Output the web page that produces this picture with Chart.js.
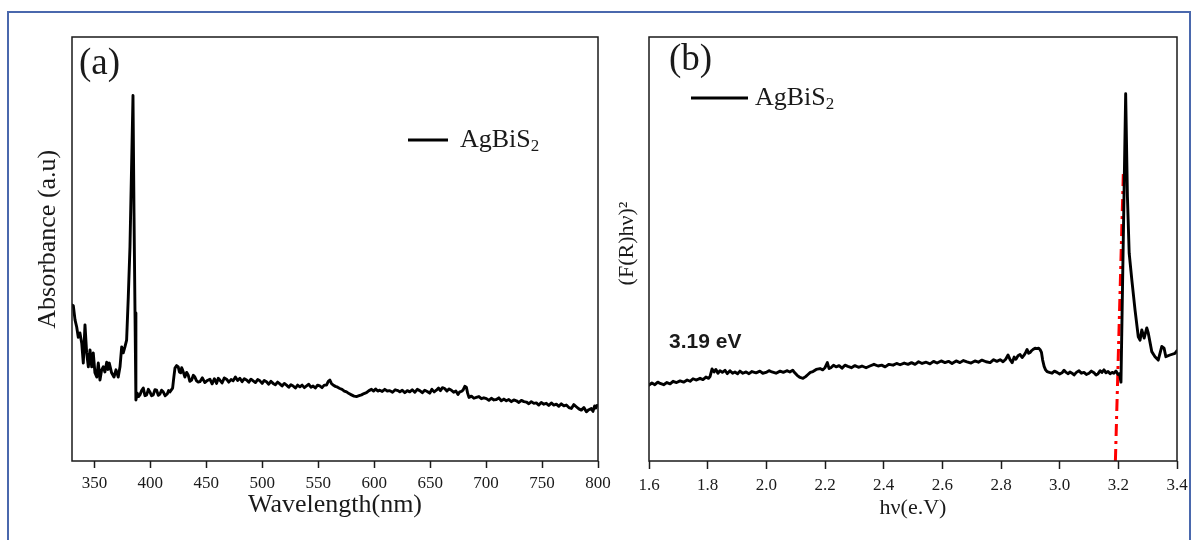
<!DOCTYPE html>
<html>
<head>
<meta charset="utf-8">
<script src="https://cdn.jsdelivr.net/npm/chart.js@4.4.1/dist/chart.umd.min.js"></script>
<style>
  html, body { margin: 0; padding: 0; background: #ffffff; }
  #wrap { position: relative; width: 1198px; height: 540px; overflow: hidden; background: #ffffff; }
  #frame { position: absolute; left: 7px; top: 11px; width: 1184px; height: 560px;
           border: 2px solid #4a68ad; box-sizing: border-box; }
  canvas { position: absolute; top: 0; }
  #chartA { left: 0; }
  #chartB { left: 600px; }
</style>
</head>
<body>
<div id="wrap">
  <div id="frame"></div>
  <canvas id="chartA" width="640" height="540"></canvas>
  <canvas id="chartB" width="598" height="540"></canvas>
</div>
<script>
// ---- (a) UV-Vis absorbance spectrum ----
const wavelength = [
  330.0, 331.2, 332.7, 334.2, 335.6, 337.1, 338.7, 340.1, 341.6, 343.1, 344.6, 346.1, 347.6, 349.0,
  350.5, 352.1, 353.5, 355.0, 356.5, 357.9, 359.4, 361.0, 362.2, 363.3, 365.4, 367.5, 369.3, 371.3,
  372.9, 374.4, 375.8, 377.3, 378.8, 380.3, 381.8, 383.3, 384.5, 385.4, 386.3, 387.1, 388.3, 389.5,
  390.7, 392.2, 393.7, 395.2, 396.7, 398.2, 399.6, 401.1, 402.6, 404.1, 405.6, 407.1, 408.6, 410.0,
  411.5, 413.3, 415.1, 416.3, 417.5, 419.9, 421.0, 422.0, 423.5, 424.9, 426.0, 427.1, 428.0, 428.8,
  430.9, 432.4, 433.8, 435.3, 436.9, 438.4, 439.8, 441.3, 442.8, 444.3, 446.5, 448.7, 451.0, 453.2,
  455.2, 457.2, 459.2, 460.7, 462.1, 464.1, 466.1, 468.1, 470.1, 472.1, 474.0, 476.0, 478.0, 480.0,
  482.0, 484.0, 486.0, 488.0, 489.9, 491.9, 493.9, 495.9, 497.9, 499.9, 501.8, 503.8, 505.8, 507.7,
  509.7, 511.7, 513.7, 515.7, 517.7, 519.7, 521.7, 523.7, 525.6, 527.6, 529.6, 531.6, 533.6, 535.6,
  537.6, 539.6, 541.6, 543.5, 545.4, 547.4, 549.4, 551.4, 553.4, 555.4, 557.4, 559.0, 560.4, 561.8,
  563.3, 565.3, 567.3, 569.3, 571.3, 573.3, 575.3, 577.5, 579.7, 582.0, 584.2, 586.5, 588.7, 590.9,
  593.1, 595.4, 597.6, 599.5, 601.3, 603.2, 605.0, 607.2, 609.5, 611.7, 613.9, 616.4, 618.8, 621.3,
  622.9, 625.1, 627.4, 629.6, 631.8, 634.0, 636.3, 638.5, 640.7, 643.0, 645.2, 647.4, 649.6, 651.6,
  653.6, 655.6, 657.5, 659.2, 661.0, 663.0, 665.0, 667.0, 669.0, 671.0, 673.0, 674.9, 676.5, 678.0,
  679.4, 681.0, 682.4, 683.5, 684.7, 686.9, 689.1, 691.3, 693.6, 695.8, 698.0, 700.3, 702.5, 704.7,
  707.0, 709.2, 711.4, 713.6, 715.9, 718.1, 720.3, 722.6, 724.8, 727.1, 729.3, 731.5, 733.8, 736.0,
  738.2, 740.4, 742.7, 744.9, 747.1, 749.3, 751.6, 753.8, 756.0, 758.3, 760.5, 762.8, 765.0, 767.2,
  769.5, 771.7, 774.0, 776.2, 778.4, 780.6, 782.9, 785.1, 787.4, 789.6, 791.8, 794.0, 795.5, 797.0,
  798.0, 799.1, 800.0
];
const absorbance = [
  36.8, 36.6, 33.3, 31.6, 29.2, 30.2, 27.8, 23.1, 32.1, 25.5, 22.2, 26.2, 22.2, 25.5,
  20.8, 19.8, 23.1, 19.1, 21.5, 22.2, 21.0, 23.3, 21.6, 23.1, 20.8, 19.8, 21.5, 19.8,
  22.2, 26.9, 25.5, 26.9, 28.5, 38.7, 50.5, 70.3, 86.2, 58.5, 34.9, 14.4, 16.0, 15.2,
  15.6, 16.6, 17.2, 15.4, 15.6, 16.9, 16.3, 15.4, 15.6, 16.8, 16.7, 15.5, 15.8, 16.7,
  16.3, 15.4, 15.8, 16.6, 16.3, 17.2, 19.8, 21.9, 22.5, 22.2, 21.0, 20.8, 22.0, 21.5,
  19.8, 20.9, 20.3, 18.8, 19.1, 20.2, 19.8, 18.9, 18.6, 18.7, 19.6, 18.5, 19.0, 19.3,
  18.2, 19.4, 18.3, 19.5, 19.1, 18.4, 19.6, 19.3, 18.6, 19.2, 18.9, 19.8, 19.0, 19.5,
  18.7, 19.4, 19.1, 18.6, 19.3, 18.9, 18.5, 19.2, 18.9, 18.3, 19.0, 18.7, 18.1, 18.8,
  18.3, 18.0, 18.6, 18.2, 17.7, 18.3, 17.9, 17.4, 18.0, 17.7, 17.2, 17.9, 17.5, 17.9,
  17.3, 17.7, 18.1, 17.4, 17.7, 17.2, 17.9, 17.7, 17.3, 17.9, 17.9, 18.8, 19.1, 18.3,
  17.9, 17.6, 17.4, 17.1, 16.9, 16.5, 16.3, 15.9, 15.6, 15.3, 15.2, 15.4, 15.6, 15.9,
  16.1, 16.6, 16.9, 16.5, 17.0, 16.5, 16.7, 16.4, 16.9, 16.5, 16.6, 16.2, 16.8, 16.6,
  16.3, 16.7, 16.1, 16.6, 16.3, 16.8, 16.2, 16.9, 16.6, 16.1, 16.7, 16.4, 16.0, 16.9,
  16.3, 16.7, 17.2, 16.6, 17.3, 17.1, 16.5, 17.0, 16.7, 16.2, 16.5, 15.7, 16.3, 16.4,
  16.7, 17.6, 17.4, 16.0, 15.0, 15.3, 14.8, 15.0, 15.2, 14.7, 14.9, 14.7, 14.3, 14.8,
  14.4, 14.5, 14.9, 14.2, 14.6, 14.2, 14.5, 14.0, 14.4, 14.2, 13.8, 14.3, 14.0, 13.9,
  13.5, 14.0, 13.6, 13.7, 13.2, 13.8, 13.4, 13.6, 13.1, 13.7, 13.2, 13.4, 12.9, 13.5,
  13.0, 13.2, 12.6, 12.4, 13.3, 12.8, 12.3, 12.0, 12.6, 11.6, 12.1, 12.4, 11.7, 13.0,
  12.5, 13.1, 13.0
];
const wavelengthTicks = [350, 400, 450, 500, 550, 600, 650, 700, 750, 800];

// ---- (b) Tauc plot ----
const energy = [
  1.600, 1.610, 1.620, 1.630, 1.638, 1.650, 1.661, 1.672, 1.682, 1.694, 1.706, 1.718, 1.730, 1.740,
  1.750, 1.762, 1.774, 1.784, 1.794, 1.803, 1.808, 1.815, 1.822, 1.828, 1.835, 1.842, 1.850, 1.859,
  1.867, 1.876, 1.885, 1.893, 1.902, 1.910, 1.920, 1.931, 1.941, 1.951, 1.965, 1.978, 1.988, 1.999,
  2.009, 2.019, 2.033, 2.047, 2.058, 2.070, 2.080, 2.090, 2.097, 2.105, 2.115, 2.125, 2.134, 2.142,
  2.150, 2.159, 2.170, 2.183, 2.192, 2.200, 2.208, 2.214, 2.220, 2.229, 2.238, 2.248, 2.258, 2.268,
  2.278, 2.290, 2.302, 2.314, 2.326, 2.340, 2.353, 2.367, 2.381, 2.393, 2.405, 2.418, 2.432, 2.444,
  2.456, 2.470, 2.483, 2.495, 2.507, 2.519, 2.531, 2.545, 2.558, 2.570, 2.582, 2.596, 2.609, 2.621,
  2.633, 2.647, 2.660, 2.672, 2.684, 2.698, 2.711, 2.723, 2.735, 2.749, 2.763, 2.775, 2.786, 2.797,
  2.807, 2.816, 2.824, 2.831, 2.838, 2.845, 2.851, 2.858, 2.865, 2.872, 2.878, 2.884, 2.889, 2.894,
  2.899, 2.904, 2.909, 2.916, 2.923, 2.928, 2.933, 2.938, 2.942, 2.947, 2.952, 2.957, 2.965, 2.974,
  2.982, 2.991, 3.000, 3.008, 3.015, 3.022, 3.029, 3.035, 3.042, 3.049, 3.057, 3.066, 3.074, 3.083,
  3.091, 3.100, 3.108, 3.117, 3.124, 3.131, 3.138, 3.144, 3.151, 3.158, 3.165, 3.172, 3.179, 3.185,
  3.192, 3.199, 3.204, 3.209, 3.225, 3.231, 3.237, 3.246, 3.257, 3.268, 3.274, 3.280, 3.288, 3.297,
  3.302, 3.314, 3.325, 3.336, 3.348, 3.356, 3.362, 3.376, 3.393, 3.400
];
const kubelkaMunk = [
  17.9, 18.4, 18.0, 18.6, 18.3, 18.0, 18.5, 18.2, 18.8, 18.5, 18.9, 18.6, 19.1, 18.8,
  19.4, 19.1, 19.5, 19.2, 19.8, 19.5, 19.9, 21.7, 21.0, 21.6, 20.7, 21.3, 20.9, 21.4,
  20.6, 21.3, 20.7, 21.0, 20.6, 21.2, 20.7, 21.0, 20.6, 21.1, 20.8, 21.2, 20.7, 20.9,
  21.3, 21.0, 20.7, 21.2, 20.9, 21.3, 21.0, 21.4, 20.8, 20.2, 19.7, 19.5, 19.9, 20.4,
  20.9, 21.1, 21.6, 21.8, 21.5, 22.0, 23.2, 21.8, 22.0, 22.6, 22.2, 22.5, 21.9, 22.6,
  22.3, 22.0, 22.5, 22.1, 22.4, 22.0, 22.4, 22.8, 22.4, 22.6, 22.2, 22.8, 22.6, 23.0,
  22.7, 23.1, 22.8, 23.2, 22.8, 23.4, 23.0, 23.3, 22.9, 23.5, 23.1, 23.6, 23.2, 23.5,
  23.0, 23.6, 23.2, 23.7, 23.4, 23.1, 23.6, 23.3, 23.8, 23.4, 23.2, 23.9, 23.5, 23.9,
  23.4, 24.0, 25.0, 23.9, 23.2, 24.5, 24.0, 24.8, 25.1, 24.4, 24.9, 25.6, 26.3, 25.4,
  25.6, 26.0, 26.3, 26.6, 26.5, 26.6, 26.3, 25.6, 23.8, 22.3, 21.5, 21.1, 20.9, 20.7,
  21.2, 20.9, 20.5, 20.8, 21.4, 20.9, 20.6, 21.0, 20.7, 20.3, 20.9, 21.3, 20.7, 20.9,
  20.4, 20.7, 21.2, 20.8, 20.3, 20.6, 21.3, 20.9, 21.5, 20.8, 21.1, 20.6, 20.9, 20.7,
  21.2, 20.4, 20.6, 18.6, 86.6, 62.3, 49.0, 42.7, 35.6, 29.3, 28.5, 30.9, 29.0, 31.4,
  30.2, 25.8, 24.6, 23.8, 27.0, 26.6, 24.6, 25.0, 25.4, 26.0
];
const energyTicks = [1.6, 1.8, 2.0, 2.2, 2.4, 2.6, 2.8, 3.0, 3.2, 3.4];

// Linear extrapolation of the absorption edge; it meets the baseline at the band gap.
const bandGap = 3.19;
const edgeFitX = [bandGap, 3.217];
const edgeFitY = [0, 67.7];

const SERIF = '"Liberation Serif", "Times New Roman", serif';
const SANS = '"Liberation Sans", Arial, sans-serif';
const INK = '#1a1a1a';

function toPoints(xs, ys) { return xs.map((x, i) => ({ x: x, y: ys[i] })); }

// Closed black box around the plotting area.
const boxFrame = {
  id: 'boxFrame',
  afterDraw(chart) {
    const a = chart.chartArea, ctx = chart.ctx;
    ctx.save();
    ctx.strokeStyle = INK;
    ctx.lineWidth = 1.5;
    ctx.strokeRect(a.left, a.top, a.right - a.left, a.bottom - a.top);
    ctx.restore();
  }
};

// Draws text where Unicode subscript digits are rendered as small lowered digits.
const SUBS = '₀₁₂₃₄₅₆₇₈₉';
function drawRichText(ctx, text, x, y, size, family) {
  let cx = x;
  for (const ch of text) {
    const k = SUBS.indexOf(ch);
    if (k >= 0) {
      ctx.font = Math.round(size * 0.64) + 'px ' + family;
      ctx.fillText(String(k), cx, y + size * 0.24);
      cx += ctx.measureText(String(k)).width;
    } else {
      ctx.font = size + 'px ' + family;
      ctx.fillText(ch, cx, y);
      cx += ctx.measureText(ch).width;
    }
  }
}

// Legend placed inside the plot: sample line + series name.
const inlineLegend = {
  id: 'inlineLegend',
  afterDraw(chart, args, opts) {
    const ds = chart.data.datasets[0];
    const ctx = chart.ctx;
    ctx.save();
    ctx.strokeStyle = ds.borderColor;
    ctx.lineWidth = ds.borderWidth;
    ctx.beginPath();
    ctx.moveTo(opts.x1, opts.y);
    ctx.lineTo(opts.x2, opts.y);
    ctx.stroke();
    ctx.fillStyle = INK;
    ctx.textBaseline = 'middle';
    ctx.textAlign = 'left';
    drawRichText(ctx, ds.label, opts.textX, opts.y, opts.size, SERIF);
    ctx.restore();
  }
};

// Free text annotations (panel letters, band-gap value).
const textNotes = {
  id: 'textNotes',
  afterDraw(chart, args, opts) {
    const ctx = chart.ctx;
    ctx.save();
    for (const n of opts.items) {
      ctx.font = n.font;
      ctx.fillStyle = n.color || INK;
      ctx.textAlign = 'left';
      ctx.textBaseline = 'alphabetic';
      ctx.fillText(n.text, n.x, n.y);
    }
    ctx.restore();
  }
};

function xAxis(min, max, tickValues, fmt, title, titleSize, tickLen, tickPad, axisHeight) {
  return {
    type: 'linear', position: 'bottom', min: min, max: max,
    afterBuildTicks: s => { s.ticks = tickValues.map(v => ({ value: v })); },
    afterFit: s => { s.height = axisHeight; s.paddingLeft = 0; s.paddingRight = 0; },
    border: { display: false },
    grid: { display: true, drawOnChartArea: false, drawTicks: true, tickLength: tickLen,
            tickWidth: 1.5, tickColor: INK, color: INK },
    ticks: { autoSkip: false, maxRotation: 0, padding: tickPad, color: INK,
             font: { family: SERIF, size: 17 }, callback: fmt },
    title: { display: true, text: title, color: INK, padding: 0,
             font: { family: SERIF, size: titleSize } }
  };
}

function yAxis(title, titleSize, axisWidth) {
  return {
    type: 'linear', position: 'left', min: 0, max: 100,
    afterFit: s => { s.width = axisWidth; s.paddingTop = 0; s.paddingBottom = 0; },
    border: { display: false },
    grid: { display: false },
    ticks: { display: false },
    title: { display: true, text: title, color: INK, padding: 0,
             font: { family: SERIF, size: titleSize } }
  };
}

const common = {
  responsive: false,
  animation: false,
  devicePixelRatio: 1,
  events: [],
  elements: { point: { radius: 0 }, line: { tension: 0, borderJoinStyle: 'round', borderCapStyle: 'round' } }
};

// Panel (a)
new Chart(document.getElementById('chartA'), {
  type: 'line',
  data: {
    datasets: [{
      label: 'AgBiS₂',
      data: toPoints(wavelength, absorbance),
      borderColor: '#000000',
      borderWidth: 2.9,
      fill: false
    }]
  },
  options: Object.assign({}, common, {
    layout: { autoPadding: false, padding: { left: 32.4, right: 42, top: 37, bottom: 19.4 } },
    scales: {
      x: xAxis(330, 800, wavelengthTicks, v => String(v), 'Wavelength(nm)', 26, 7, 5, 59.6),
      y: yAxis('   Absorbance (a.u)', 26, 39.6)
    },
    plugins: {
      legend: { display: false },
      tooltip: { enabled: false },
      inlineLegend: { x1: 408, x2: 448, y: 140, textX: 460, size: 26 },
      textNotes: { items: [ { text: '(a)', x: 79, y: 74, font: '37px ' + SERIF } ] }
    }
  }),
  plugins: [boxFrame, inlineLegend, textNotes]
});

// Panel (b)
new Chart(document.getElementById('chartB'), {
  type: 'line',
  data: {
    datasets: [{
      label: 'AgBiS₂',
      data: toPoints(energy, kubelkaMunk),
      borderColor: '#000000',
      borderWidth: 2.9,
      fill: false
    }, {
      label: 'Band-gap fit',
      data: toPoints(edgeFitX, edgeFitY),
      borderColor: '#ff0000',
      borderWidth: 3,
      borderDash: [12, 5, 3, 5],
      borderCapStyle: 'butt',
      fill: false
    }]
  },
  options: Object.assign({}, common, {
    layout: { autoPadding: false, padding: { left: 13.8, right: 21, top: 37, bottom: 18.8 } },
    scales: {
      x: xAxis(1.6, 3.4, energyTicks, v => Number(v).toFixed(1), 'hν(e.V)', 22, 8, 6, 60.2),
      y: yAxis('  (F(R)hν)²', 22, 35.2)
    },
    plugins: {
      legend: { display: false },
      tooltip: { enabled: false },
      inlineLegend: { x1: 91, x2: 148, y: 98, textX: 155, size: 26 },
      textNotes: { items: [
        { text: '(b)', x: 69, y: 70, font: '37px ' + SERIF },
        { text: bandGap.toFixed(2) + ' eV', x: 69, y: 348, font: 'bold 21px ' + SANS }
      ] }
    }
  }),
  plugins: [boxFrame, inlineLegend, textNotes]
});
</script>
</body>
</html>
